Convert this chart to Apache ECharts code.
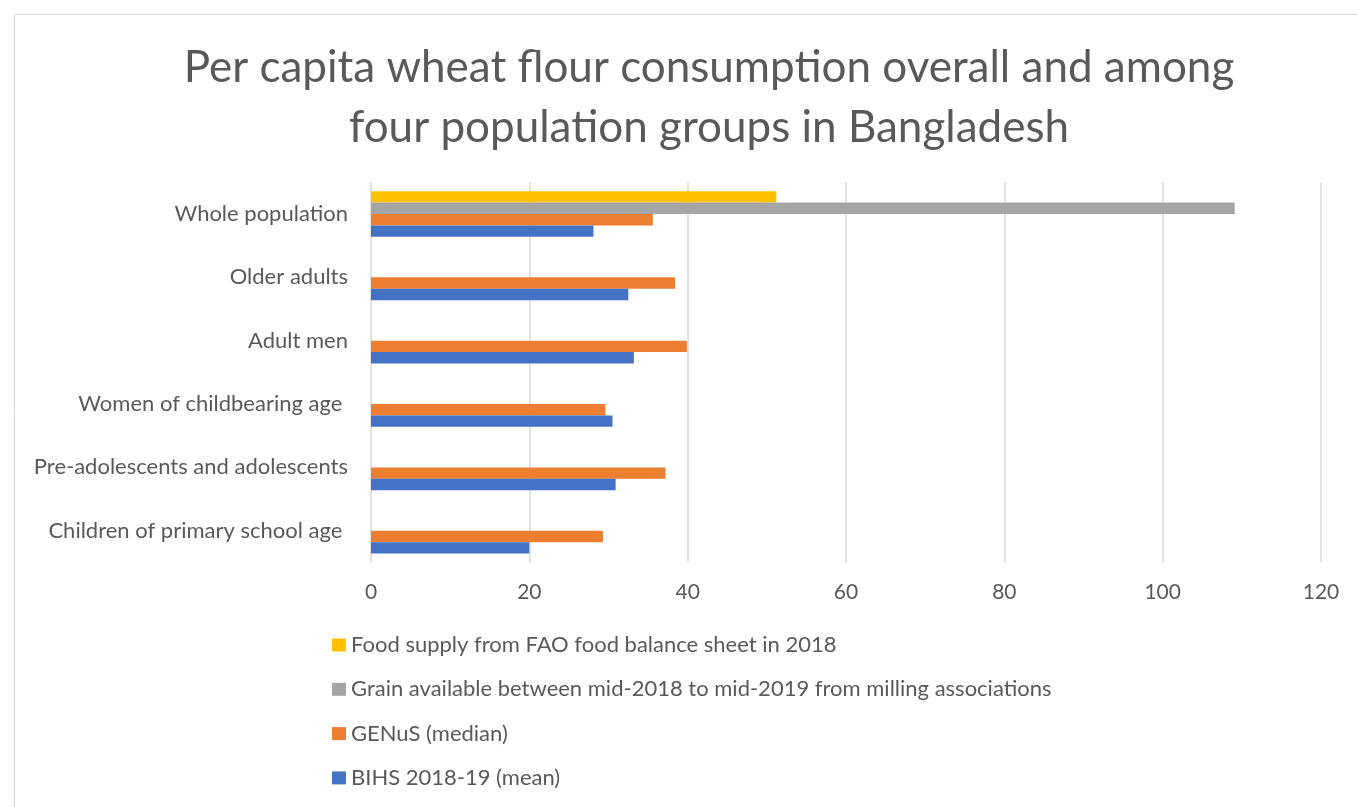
<!DOCTYPE html>
<html>
<head>
<meta charset="utf-8">
<script src="https://cdn.jsdelivr.net/npm/echarts@6/dist/echarts.min.js"></script>
<style>
  html, body { margin: 0; padding: 0; background: #ffffff; }
  #chart { width: 1357px; height: 807px; }
</style>
</head>
<body>
<div id="chart"></div>
<script>
// Population groups, listed top to bottom
const groups = [
  'Whole population',
  'Older adults',
  'Adult men',
  'Women of childbearing age ',
  'Pre-adolescents and adolescents',
  'Children of primary school age '
];

// Per capita wheat flour consumption by source
const faoSupply    = [51.2, null, null, null, null, null];
const millingGrain = [109.1, null, null, null, null, null];
const genusMedian  = [35.6, 38.4, 39.9, 29.6, 37.2, 29.3];
const bihsMean     = [28.1, 32.5, 33.2, 30.5, 30.9, 20.0];

const seriesNames = [
  'Food supply from FAO food balance sheet in 2018',
  'Grain available between mid-2018 to mid-2019 from milling associations',
  'GENuS (median)',
  'BIHS 2018-19 (mean)'
];

const xTicks = { min: 0, max: 120, interval: 20 };

const FONT = 'Lato';
const TEXT = '#595959';
const GRID = '#d9d9d9';

const chart = echarts.init(document.getElementById('chart'), null, { renderer: 'canvas' });

const barBase = {
  type: 'bar',
  barGap: '0%',
  barCategoryGap: '28%',
  emphasis: { disabled: true }
};

chart.setOption({
  animation: false,
  backgroundColor: '#ffffff',
  graphic: [
    {
      type: 'rect',
      left: 12, top: 12,
      shape: { width: 1400, height: 900 },
      style: { fill: 'none', stroke: GRID, lineWidth: 1 },
      silent: true
    },
    {
      type: 'text',
      x: 709, y: 98,
      style: {
        text: 'Per capita wheat flour consumption overall and among\nfour population groups in Bangladesh',
        font: '44px ' + FONT,
        fill: TEXT,
        textAlign: 'center',
        textVerticalAlign: 'middle',
        lineHeight: 60
      },
      silent: true
    }
  ],
  legend: {
    orient: 'vertical',
    left: 332,
    top: 634,
    padding: 0,
    itemWidth: 14,
    itemHeight: 13,
    itemGap: 22.3,
    icon: 'rect',
    selectedMode: false,
    data: seriesNames,
    textStyle: { fontFamily: FONT, fontSize: 22, color: TEXT, lineHeight: 22, padding: [0, 0, 0, 0] }
  },
  grid: {
    left: 371,
    right: 36,
    top: 182.3,
    bottom: 244.6,
    containLabel: false
  },
  xAxis: {
    type: 'value',
    min: xTicks.min,
    max: xTicks.max,
    interval: xTicks.interval,
    axisLine: { show: false },
    axisTick: { show: false },
    splitLine: { show: true, lineStyle: { color: GRID, width: 1.5 } },
    axisLabel: { fontFamily: FONT, fontSize: 21, color: TEXT, margin: 19 }
  },
  yAxis: {
    type: 'category',
    inverse: true,
    data: groups,
    axisLine: { show: false },
    axisTick: { show: false },
    splitLine: { show: false },
    axisLabel: { fontFamily: FONT, fontSize: 22, color: TEXT, margin: 23 }
  },
  series: [
    Object.assign({}, barBase, { name: seriesNames[0], data: faoSupply,    itemStyle: { color: '#FFC000' } }),
    Object.assign({}, barBase, { name: seriesNames[1], data: millingGrain, itemStyle: { color: '#A5A5A5' } }),
    Object.assign({}, barBase, { name: seriesNames[2], data: genusMedian,  itemStyle: { color: '#ED7D31' } }),
    Object.assign({}, barBase, { name: seriesNames[3], data: bihsMean,     itemStyle: { color: '#4472C4' } })
  ]
});
</script>
</body>
</html>
